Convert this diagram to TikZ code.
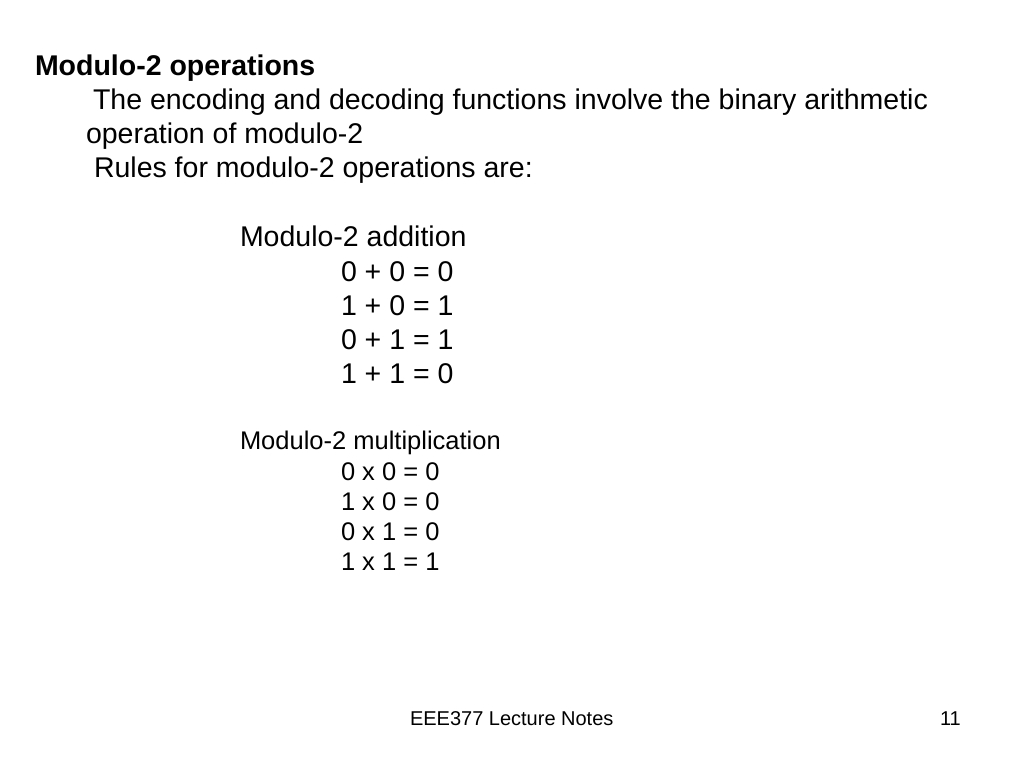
\documentclass[tikz,border=0pt]{standalone}
\usepackage{fontspec}
\setmainfont{Liberation Sans}
\begin{document}
\begin{tikzpicture}[x=1pt,y=-1pt,
  txt/.style={anchor=base west,inner sep=0pt,outer sep=0pt,font=\fontsize{28.5}{34}\selectfont},
  small/.style={anchor=base west,inner sep=0pt,outer sep=0pt,font=\fontsize{25.5}{30}\selectfont},
  foot/.style={anchor=base west,inner sep=0pt,outer sep=0pt,font=\fontsize{20}{24}\selectfont}]
\useasboundingbox[fill=white] (0,0) rectangle (1024,768);
\node[txt,font=\fontsize{28.5}{34}\selectfont\bfseries] (title) at (35,75) {Modulo-2 operations};
\node[txt] (l1) at (93,109) {The encoding and decoding functions involve the binary arithmetic};
\node[txt] (l2) at (86,143) {operation of modulo-2};
\node[txt] (l3) at (94,177) {Rules for modulo-2 operations are:};
\node[txt] (add) at (240,246) {Modulo-2 addition};
\node[txt] (a1) at (341,281) {0 + 0 = 0};
\node[txt] (a2) at (341,315) {1 + 0 = 1};
\node[txt] (a3) at (341,349) {0 + 1 = 1};
\node[txt] (a4) at (341,383) {1 + 1 = 0};
\node[small] (mul) at (240,449) {Modulo-2 multiplication};
\node[small] (m1) at (341,480) {0 x 0 = 0};
\node[small] (m2) at (341,510) {1 x 0 = 0};
\node[small] (m3) at (341,540) {0 x 1 = 0};
\node[small] (m4) at (341,570) {1 x 1 = 1};
\node[foot] (ft) at (410,725) {EEE377 Lecture Notes};
\node[foot] (pg) at (940,725) {11};
\end{tikzpicture}
\end{document}
